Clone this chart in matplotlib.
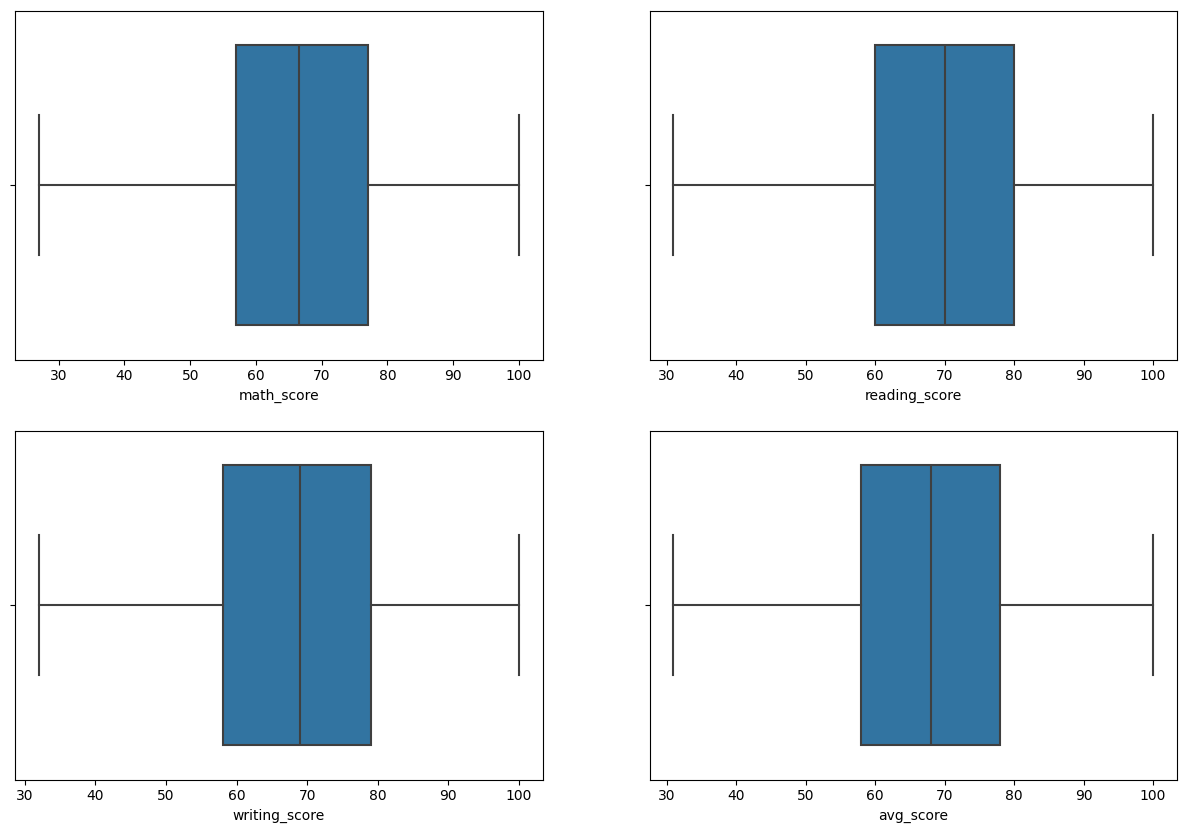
import matplotlib
matplotlib.use("Agg")
import matplotlib.pyplot as plt

# Data (five-number summaries)
labels = ["math_score", "reading_score", "writing_score", "avg_score"]
whislo = [27, 31, 32, 31]
q1 = [57, 60, 58, 58]
med = [66.5, 70, 69, 68]
q3 = [77, 80, 79, 78]
whishi = [100, 100, 100, 100]

box_color = "#3274a1"
line_color = "#3f3f3f"

W, H = 1187, 833
fig = plt.figure(figsize=(W/100, H/100), dpi=100)
rects = [
    [15/W, 1-359.5/H, 528/W, 349/H],
    [649.5/W, 1-359.5/H, 527.5/W, 349/H],
    [15/W, 1-779.5/H, 528/W, 349/H],
    [649.5/W, 1-779.5/H, 527.5/W, 349/H],
]

for i, lab in enumerate(labels):
    ax = fig.add_axes(rects[i])
    stats = [{
        "whislo": whislo[i], "q1": q1[i], "med": med[i],
        "q3": q3[i], "whishi": whishi[i], "fliers": [], "label": "",
    }]
    ax.bxp(stats, positions=[0], widths=0.8, vert=False, patch_artist=True,
           showfliers=False, capwidths=[0.4],
           boxprops=dict(facecolor=box_color, edgecolor=line_color, linewidth=1.5),
           medianprops=dict(color=line_color, linewidth=1.5),
           whiskerprops=dict(color=line_color, linewidth=1.5),
           capprops=dict(color=line_color, linewidth=1.5))
    ax.set_ylim(0.5, -0.5)
    ax.set_yticks([0])
    ax.set_yticklabels([""])
    ax.margins(x=0.05)
    ax.autoscale(axis="x")
    ax.set_xlabel(lab)

fig.savefig("out.png", dpi=100)
